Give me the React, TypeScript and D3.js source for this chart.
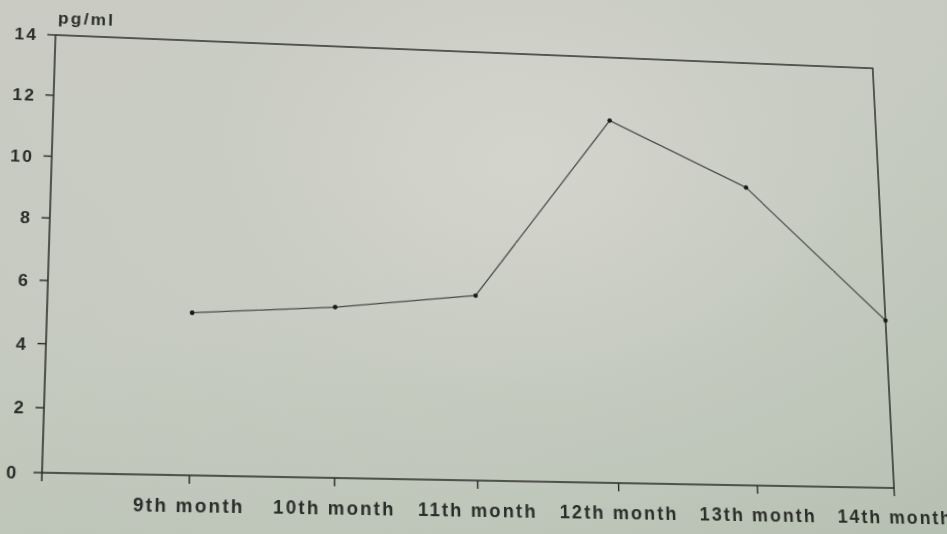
import React, { useEffect, useRef } from "react";
import * as d3 from "d3";

// chart data
const months = [
  "9th month",
  "10th month",
  "11th month",
  "12th month",
  "13th month",
  "14th month",
];
const values = [5.1, 5.4, 5.9, 11.85, 9.75, 5.45];
const yTicks = [0, 2, 4, 6, 8, 10, 12, 14];
const unitLabel = "pg/ml";

const WIDTH = 947;
const HEIGHT = 534;

// flat plot frame (drawn straight, then warped like the photo)
const PL = 50;
const PT = 40;
const PW = 835;
const PH = 432;

// where the frame corners land in the photo: tl, tr, br, bl
const corners: [number, number][] = [
  [55.5, 35],
  [872.7, 68.3],
  [894, 488],
  [42, 472.7],
];

type M3 = number[][];

const mul = (a: M3, b: M3): M3 =>
  a.map((row) =>
    [0, 1, 2].map((j) => row[0] * b[0][j] + row[1] * b[1][j] + row[2] * b[2][j])
  );

// unit square -> quad (Heckbert)
const squareToQuad = (q: [number, number][]): M3 => {
  const [[x0, y0], [x1, y1], [x2, y2], [x3, y3]] = q;
  const dx1 = x1 - x2;
  const dx2 = x3 - x2;
  const dx3 = x0 - x1 + x2 - x3;
  const dy1 = y1 - y2;
  const dy2 = y3 - y2;
  const dy3 = y0 - y1 + y2 - y3;
  const den = dx1 * dy2 - dx2 * dy1;
  const g = (dx3 * dy2 - dx2 * dy3) / den;
  const h = (dx1 * dy3 - dx3 * dy1) / den;
  return [
    [x1 - x0 + g * x1, x3 - x0 + h * x3, x0],
    [y1 - y0 + g * y1, y3 - y0 + h * y3, y0],
    [g, h, 1],
  ];
};

const warpCss = () => {
  const s: M3 = [
    [1 / PW, 0, -PL / PW],
    [0, 1 / PH, -PT / PH],
    [0, 0, 1],
  ];
  const m = mul(squareToQuad(corners), s);
  const k = m[2][2];
  const n = m.map((r) => r.map((v) => v / k));
  const vals = [
    n[0][0], n[1][0], 0, n[2][0],
    n[0][1], n[1][1], 0, n[2][1],
    0, 0, 1, 0,
    n[0][2], n[1][2], 0, n[2][2],
  ];
  return `matrix3d(${vals.join(",")})`;
};

const INK = "#2b2d29";
const FONT = "'Liberation Sans', Arial, sans-serif";

const HormoneChart: React.FC = () => {
  const svgRef = useRef<SVGSVGElement>(null);

  useEffect(() => {
    const svg = d3.select(svgRef.current);
    svg.html("");

    const x = d3.scaleLinear().domain([0, months.length]).range([PL, PL + PW]);
    const y = d3.scaleLinear().domain([0, 14]).range([PT + PH, PT]);

    const g = svg.append("g");

    // frame: top and right borders
    g.append("path")
      .attr("d", `M${x(0)},${y(14)}H${x(months.length)}V${y(0)}`)
      .attr("fill", "none")
      .attr("stroke", INK)
      .attr("stroke-width", 1.5);

    // left axis
    g.append("line")
      .attr("x1", x(0))
      .attr("x2", x(0))
      .attr("y1", y(14))
      .attr("y2", y(0))
      .attr("stroke", INK)
      .attr("stroke-width", 1.5);

    // bottom axis
    g.append("line")
      .attr("x1", x(0))
      .attr("x2", x(months.length))
      .attr("y1", y(0))
      .attr("y2", y(0))
      .attr("stroke", INK)
      .attr("stroke-width", 1.5);

    // y ticks + labels
    yTicks.forEach((t) => {
      g.append("line")
        .attr("x1", x(0) - 8)
        .attr("x2", x(0))
        .attr("y1", y(t))
        .attr("y2", y(t))
        .attr("stroke", INK)
        .attr("stroke-width", 1.4);
      g.append("text")
        .attr("x", x(0) - (t === 0 ? 22 : 17))
        .attr("y", y(t))
        .attr("dy", "0.36em")
        .attr("text-anchor", "end")
        .attr("font-family", FONT)
        .attr("font-weight", "bold")
        .attr("font-size", 17)
        .attr("letter-spacing", 2)
        .attr("fill", INK)
        .text(t);
    });

    // x ticks (the first one sits under the y axis)
    d3.range(months.length + 1).forEach((i) => {
      g.append("line")
        .attr("x1", x(i))
        .attr("x2", x(i))
        .attr("y1", y(0))
        .attr("y2", y(0) + 8)
        .attr("stroke", INK)
        .attr("stroke-width", 1.4);
    });

    months.forEach((m, i) => {
      g.append("text")
        .attr("x", x(i + 1))
        .attr("y", y(0) + 35)
        .attr("text-anchor", "middle")
        .attr("font-family", FONT)
        .attr("font-weight", "bold")
        .attr("font-size", 18)
        .attr("letter-spacing", 2.1)
        .attr("fill", INK)
        .text(m);
    });

    g.append("text")
      .attr("x", x(0) + 2)
      .attr("y", y(14) - 12)
      .attr("font-family", FONT)
      .attr("font-weight", "bold")
      .attr("font-size", 17)
      .attr("letter-spacing", 2.2)
      .attr("fill", INK)
      .text(unitLabel);

    // data line
    const pts = values.map((v, i) => [x(i + 1), y(v)] as [number, number]);
    g.append("path")
      .datum(pts)
      .attr("fill", "none")
      .attr("stroke", "#4b4d48")
      .attr("stroke-width", 1.3)
      .attr("d", d3.line());

    g.selectAll("circle.pt")
      .data(pts)
      .join("circle")
      .attr("class", "pt")
      .attr("cx", (d) => d[0])
      .attr("cy", (d) => d[1])
      .attr("r", 2.3)
      .attr("fill", "#1c1d1b");
  }, []);

  return (
    <svg
      ref={svgRef}
      width={WIDTH}
      height={HEIGHT}
      style={{
        position: "absolute",
        left: 0,
        top: 0,
        transformOrigin: "0 0",
        transform: warpCss(),
      }}
    />
  );
};

export default function App() {
  return (
    <div
      style={{
        position: "absolute",
        left: 0,
        top: 0,
        width: WIDTH,
        height: HEIGHT,
        overflow: "hidden",
        background:
          "radial-gradient(ellipse at 55% 30%, rgba(214,214,206,0.9) 0%, rgba(204,207,198,0.5) 45%, rgba(180,192,176,0) 100%), linear-gradient(160deg, #c9cac2 0%, #c3c8bd 45%, #b3beaf 100%)",
      }}
    >
      <HormoneChart />
    </div>
  );
}
